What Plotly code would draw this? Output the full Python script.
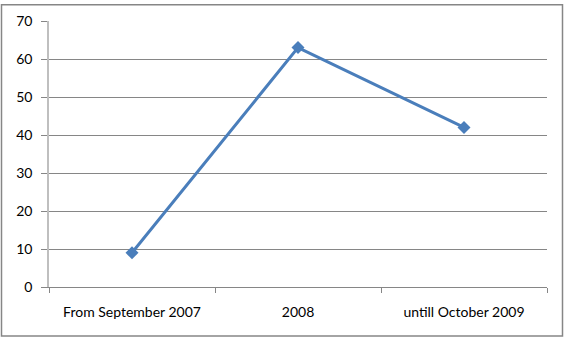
import plotly.graph_objects as go

categories = ["From September 2007", "2008", "untill October 2009"]
values = [9, 63, 42]
y_ticks = [0, 10, 20, 30, 40, 50, 60, 70]

W, H = 564, 338
ml, mr, mt, mb = 49, 17, 18, 51
pw, ph = W - ml - mr, H - mt - mb

fig = go.Figure()
fig.add_trace(go.Scatter(
    x=categories, y=values, mode="lines+markers",
    line=dict(color="#4a7ebb", width=3),
    marker=dict(symbol="diamond", size=10, color="#4a7ebb"),
    showlegend=False,
))

font = dict(family="Lato, 'Open Sans', sans-serif", size=14, color="#000000")

fig.update_layout(
    width=W, height=H,
    margin=dict(l=ml, r=mr, t=mt, b=mb),
    paper_bgcolor="white", plot_bgcolor="white",
    font=font,
    xaxis=dict(
        type="category", range=[-0.5, 2.5], tickson="boundaries",
        ticks="outside", ticklen=5, tickcolor="#868686",
        showline=True, linecolor="#868686", linewidth=1,
        showgrid=False, tickfont=font, fixedrange=True,
        ticklabelstandoff=12,
    ),
    yaxis=dict(
        range=[0, 70], tickvals=y_ticks,
        ticks="outside", ticklen=6, tickcolor="#868686",
        showline=True, linecolor="#bfbfbf", linewidth=1.5,
        showgrid=True, gridcolor="#868686", gridwidth=1,
        zeroline=False, tickfont=font, fixedrange=True,
        ticklabelstandoff=6,
    ),
    shapes=[dict(
        type="rect", xref="paper", yref="paper",
        x0=(1.5 - ml) / pw, x1=(W - 1.5 - ml) / pw,
        y0=-(mb - 1.5) / ph,
        y1=1 + (mt - 1.5) / ph,
        line=dict(color="#868686", width=1.5),
    )],
)

fig.write_html("out.html")
